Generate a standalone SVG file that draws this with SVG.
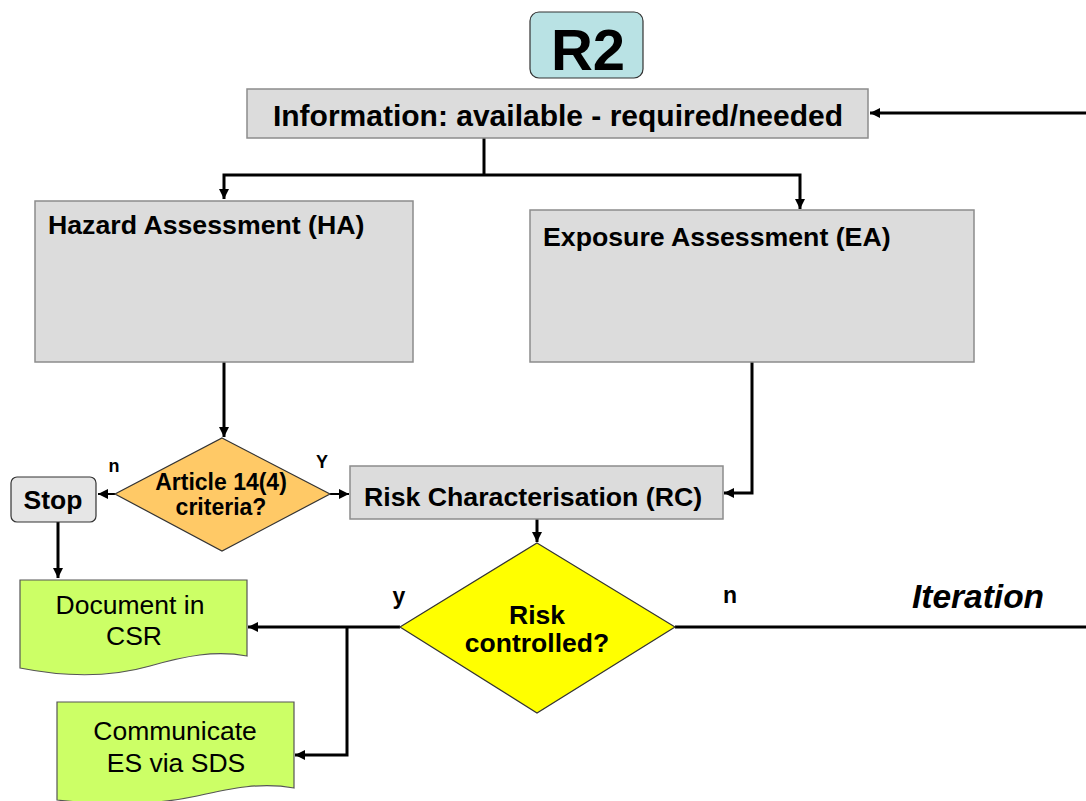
<svg xmlns="http://www.w3.org/2000/svg" width="1086" height="801" viewBox="0 0 1086 801">
<defs>
<marker id="ah" viewBox="0 0 10 10" refX="10" refY="5" markerWidth="10" markerHeight="10" markerUnits="userSpaceOnUse" orient="auto">
<path d="M0,0 L10,5 L0,10 z" fill="#000"/>
</marker>
<style>
.box{fill:#dcdcdc;stroke:#8c8c8c;stroke-width:1.5}
.doc{fill:#ccff66;stroke:#555;stroke-width:1.2}
.b{font-family:"Liberation Sans",Arial,sans-serif;font-weight:bold;fill:#000}
.n{font-family:"Liberation Sans",Arial,sans-serif;fill:#000}
.c{fill:none;stroke:#000;stroke-width:3}
.t{fill:none;stroke:#000;stroke-width:2}
</style>
</defs>
<rect width="1086" height="801" fill="#fff"/>
<g id="connectors">
<path class="c" d="M1086,113 L870,113" marker-end="url(#ah)"/>
<path class="c" d="M484,138 L484,175"/>
<path class="c" d="M484,175 L224,175 L224,199" marker-end="url(#ah)"/>
<path class="c" d="M484,175 L800,175 L800,209" marker-end="url(#ah)"/>
<path class="c" d="M224,362 L224,437" marker-end="url(#ah)"/>
<path class="t" d="M115,494 L98,494" marker-end="url(#ah)"/>
<path class="t" d="M330,494 L349,494" marker-end="url(#ah)"/>
<path class="c" d="M752,362 L752,493 L724,493" marker-end="url(#ah)"/>
<path class="c" d="M537,519 L537,542" marker-end="url(#ah)"/>
<path class="c" d="M58,522 L58,578" marker-end="url(#ah)"/>
<path class="c" d="M400,627 L248,627" marker-end="url(#ah)"/>
<path class="c" d="M347,627 L347,755 L295,755" marker-end="url(#ah)"/>
<path class="c" d="M675,627 L1086,627"/>
</g>
<g id="r2">
<rect x="530" y="12" width="113" height="66" rx="9" fill="#b9e2e4" stroke="#333" stroke-width="1.2"/>
<text class="b" x="588" y="70" font-size="58" text-anchor="middle">R2</text>
</g>
<g id="info">
<rect class="box" x="247" y="89" width="621" height="49"/>
<text class="b" x="558" y="126" font-size="30" text-anchor="middle">Information: available - required/needed</text>
</g>
<g id="ha">
<rect class="box" x="35" y="201" width="378" height="161"/>
<text class="b" x="48" y="234" font-size="26.7">Hazard Assessment (HA)</text>
</g>
<g id="ea">
<rect class="box" x="530" y="210" width="444" height="152"/>
<text class="b" x="543" y="246" font-size="26.7">Exposure Assessment (EA)</text>
</g>
<g id="article">
<polygon points="222,438 330,494 222,551 115,494" fill="#ffc966" stroke="#333" stroke-width="1.2"/>
<text class="b" x="221" y="490" font-size="23" text-anchor="middle">Article 14(4)</text>
<text class="b" x="221" y="515" font-size="23" text-anchor="middle">criteria?</text>
<text class="b" x="114" y="472" font-size="18" text-anchor="middle">n</text>
<text class="b" x="322" y="468" font-size="18" text-anchor="middle">Y</text>
</g>
<g id="stop">
<rect x="11" y="477" width="85" height="45" rx="6" fill="#e6e6e6" stroke="#333" stroke-width="1.2"/>
<text class="b" x="53" y="509" font-size="26.5" text-anchor="middle">Stop</text>
</g>
<g id="rc">
<rect class="box" x="350" y="466" width="373" height="53"/>
<text class="b" x="364" y="506" font-size="26.7">Risk Characterisation (RC)</text>
</g>
<g id="riskcontrolled">
<polygon points="537,543 675,627 537,713 400,627" fill="#ffff00" stroke="#333" stroke-width="1.2"/>
<text class="b" x="537" y="624" font-size="26.5" text-anchor="middle">Risk</text>
<text class="b" x="537" y="652" font-size="26.5" text-anchor="middle">controlled?</text>
<text class="b" x="399" y="604" font-size="23" text-anchor="middle">y</text>
<text class="b" x="730" y="603" font-size="23" text-anchor="middle">n</text>
<text class="b" x="978" y="608" font-size="33.5" font-style="italic" text-anchor="middle">Iteration</text>
</g>
<g id="document">
<path class="doc" d="M20,580 L247,580 L247,656 C215,650 185,656 150,666 C115,676 70,678 20,668 Z"/>
<text class="n" x="130" y="614" font-size="26.5" text-anchor="middle">Document in</text>
<text class="n" x="134" y="645" font-size="26.5" text-anchor="middle">CSR</text>
</g>
<g id="communicate">
<path class="doc" d="M57,702 L294,702 L294,788 C262,782 232,788 197,796 C160,804 110,806 57,800 Z"/>
<text class="n" x="175" y="740" font-size="26.5" text-anchor="middle">Communicate</text>
<text class="n" x="176" y="772" font-size="26.5" text-anchor="middle">ES via SDS</text>
</g>
</svg>
